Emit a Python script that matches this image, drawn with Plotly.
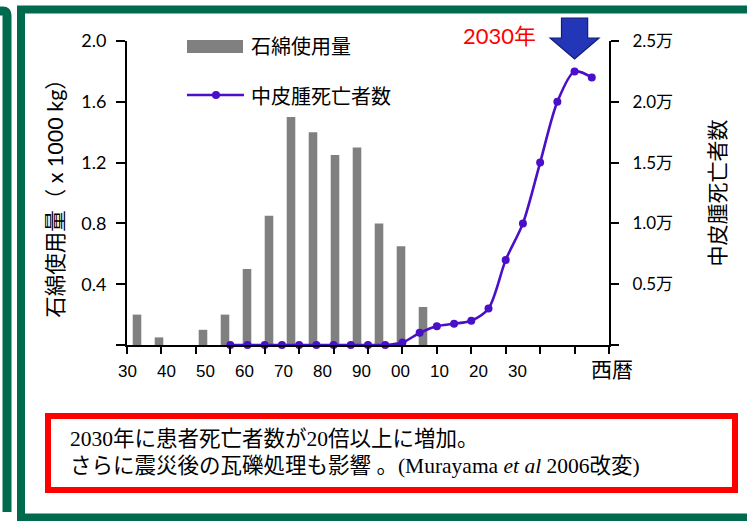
import plotly.graph_objects as go

# ---- data -------------------------------------------------------------
# Asbestos use (x 1000 kg), every 5 years
asbestos_years = [1930, 1935, 1940, 1945, 1950, 1955, 1960,
                  1965, 1970, 1975, 1980, 1985, 1990, 1995]
asbestos_use = [0.2, 0.05, 0.0, 0.1, 0.2, 0.5, 0.85,
                1.5, 1.4, 1.25, 1.3, 0.8, 0.65, 0.25]

# Mesothelioma deaths (persons), every 5 years
death_years = [1930, 1935, 1940, 1945, 1950, 1955, 1960, 1965, 1970, 1975, 1980,
               1985, 1990, 1995, 2000, 2005, 2010, 2015, 2020, 2025, 2030, 2035]
deaths = [0, 0, 0, 0, 0, 0, 0, 0, 0, 0, 200,
          1000, 1550, 1750, 2000, 3000, 7000, 10000, 15000, 20000, 22500, 22000]

# Axis labels
era_years = [1930, 1940, 1950, 1960, 1970, 1980, 1990, 2000, 2010, 2020, 2030]
era_text = ["30", "40", "50", "60", "70", "80", "90", "00", "10", "20", "30"]
use_ticks = [0, 0.4, 0.8, 1.2, 1.6, 2.0]
use_text = ["", "0.4", "0.8", "1.2", "1.6", "2.0"]
death_ticks = [0, 5000, 10000, 15000, 20000, 25000]
death_text = ["", "0.5万", "1.0万", "1.5万", "2.0万", "2.5万"]

peak_year = 2030
peak_label = "2030年"

# ---- geometry helpers ------------------------------------------------
W, H = 747, 521
L, R, T, B = 127, 138, 41, 176
PW, PH = W - L - R, H - T - B

T0, T1 = 1900, 2040            # time axis of the death curve
T_SCALE = PW / (T1 - T0)       # px per year on that axis
ERA_SCALE = 3.9                # px per year of the decade labels
ERA_OFFSET = 0.5               # px shift of the first decade label


def px(x):
    return (x - L) / PW


def py(y):
    return (H - B - y) / PH


# decade labels expressed on the time axis
era_pos = [T0 + (ERA_OFFSET + (e - era_years[0]) * ERA_SCALE) / T_SCALE
           for e in era_years]

GREEN = "#006a4e"
PURPLE = "#4a0fc8"
GRAY = "#808080"
CJK = "Noto Sans CJK JP"
NUM = "Lato, " + CJK
TXT = "Liberation Serif, " + CJK

fig = go.Figure()

fig.add_trace(go.Bar(
    x=asbestos_years, y=asbestos_use, name="石綿使用量",
    xaxis="x", yaxis="y", marker=dict(color=GRAY, line=dict(width=0)),
    width=1.95, showlegend=False,
))

fig.add_trace(go.Scatter(
    x=death_years, y=deaths, name="中皮腫死亡者数",
    xaxis="x2", yaxis="y2", mode="lines+markers",
    line=dict(color=PURPLE, width=2.6, shape="spline", smoothing=0.8),
    marker=dict(color=PURPLE, size=8), showlegend=False, cliponaxis=False,
))

axis_common = dict(showgrid=False, zeroline=False, color="black")

fig.update_layout(
    width=W, height=H,
    margin=dict(l=L, r=R, t=T, b=B, pad=0),
    paper_bgcolor="white", plot_bgcolor="white",
    showlegend=False,
    # bar positions (5-year bins)
    xaxis=dict(
        range=[1930 - 10 / 4.4, 1930 + (PW - 10) / 4.4],
        visible=False, anchor="y", **axis_common,
    ),
    # time axis: decade tick marks + decade labels
    xaxis2=dict(
        overlaying="x", side="bottom", anchor="y2",
        range=[T0, T1],
        tickmode="array", tickvals=era_pos, ticktext=era_text,
        ticks="", ticklabelstandoff=10,
        tickfont=dict(family="Liberation Sans", size=17, color="black"),
        minor=dict(tickmode="array", tickvals=list(range(T0, T1 + 1, 10)),
                   ticks="outside", ticklen=7, tickwidth=2, tickcolor="black",
                   showgrid=False),
        showline=True, linewidth=2, linecolor="black",
        **axis_common,
    ),
    yaxis=dict(
        range=[0, 2.0], tickvals=use_ticks, ticktext=use_text, anchor="x",
        ticks="outside", ticklen=9, tickwidth=2, tickcolor="black",
        showline=True, linewidth=2, linecolor="black", ticklabelstandoff=6,
        tickfont=dict(family=NUM, size=18, color="black"),
        title=dict(text="石綿使用量（ x 1000 kg）", standoff=12,
                   font=dict(family=NUM, size=21.5, color="black")),
        **axis_common,
    ),
    yaxis2=dict(
        overlaying="y", side="right", anchor="x2",
        range=[0, 25000], tickvals=death_ticks, ticktext=death_text,
        ticks="outside", ticklen=8, tickwidth=2, tickcolor="black",
        showline=True, linewidth=2, linecolor="black", ticklabelstandoff=10,
        tickfont=dict(family=NUM, size=17, color="black"),
        title=dict(text="中皮腫死亡者数", standoff=38,
                   font=dict(family=CJK, size=21, color="black")),
        **axis_common,
    ),
)

shapes = []
# outer panel frames
shapes.append(dict(type="rect", xref="paper", yref="paper",
                   x0=px(21), x1=px(790), y0=py(9.5), y1=py(517.5),
                   line=dict(color=GREEN, width=8), fillcolor="rgba(0,0,0,0)"))
shapes.append(dict(type="path", xref="paper", yref="paper",
                   path=f"M {px(-20)},{py(11)} L {px(3)},{py(11)} "
                        f"Q {px(7)},{py(11)} {px(7)},{py(15)} L {px(7)},{py(512)}",
                   line=dict(color=GREEN, width=9)))
# caption box
shapes.append(dict(type="rect", xref="paper", yref="paper",
                   x0=px(48), x1=px(735), y0=py(416), y1=py(490),
                   line=dict(color="#ff0000", width=6), fillcolor="white"))
# legend swatches
shapes.append(dict(type="rect", xref="paper", yref="paper",
                   x0=px(187), x1=px(243), y0=py(40), y1=py(53),
                   line=dict(width=0), fillcolor=GRAY))
shapes.append(dict(type="line", xref="paper", yref="paper",
                   x0=px(187), x1=px(244), y0=py(95), y1=py(95),
                   line=dict(color=PURPLE, width=2.6)))
shapes.append(dict(type="circle", xref="paper", yref="paper",
                   x0=px(212), x1=px(220), y0=py(91), y1=py(99),
                   line=dict(width=0), fillcolor=PURPLE))
# block arrow over the peak year
hw, sw = 7.1, 3.8
shapes.append(dict(type="path", xref="x2", yref="paper",
                   path=(f"M {peak_year - sw},{py(18)} L {peak_year + sw},{py(18)} "
                         f"L {peak_year + sw},{py(38)} L {peak_year + hw},{py(38)} "
                         f"L {peak_year},{py(59)} L {peak_year - hw},{py(38)} "
                         f"L {peak_year - sw},{py(38)} Z"),
                   line=dict(color="#121c78", width=1.2), fillcolor="#2436b8"))

annotations = [
    dict(text="石綿使用量", x=px(249), y=py(45), xref="paper", yref="paper",
         xanchor="left", yanchor="middle", showarrow=False,
         font=dict(family=CJK, size=20, color="black")),
    dict(text="中皮腫死亡者数", x=px(249), y=py(95), xref="paper", yref="paper",
         xanchor="left", yanchor="middle", showarrow=False,
         font=dict(family=CJK, size=20, color="black")),
    dict(text=peak_label, x=px(538), y=py(35), xref="paper", yref="paper",
         xanchor="right", yanchor="middle", showarrow=False,
         font=dict(family=NUM, size=22, color="#ff0000")),
    dict(text="西暦", x=px(612), y=py(368), xref="paper", yref="paper",
         xanchor="center", yanchor="middle", showarrow=False,
         font=dict(family=CJK, size=21, color="black")),
    dict(text="2030年に患者死亡者数が20倍以上に増加。",
         x=px(68), y=py(439), xref="paper", yref="paper",
         xanchor="left", yanchor="middle", showarrow=False,
         font=dict(family=TXT, size=21.5, color="black")),
    dict(text="さらに震災後の瓦礫処理も影響 。(Murayama <i>et al</i> 2006改変)",
         x=px(68), y=py(466), xref="paper", yref="paper",
         xanchor="left", yanchor="middle", showarrow=False,
         font=dict(family=TXT, size=21.5, color="black")),
]

fig.update_layout(shapes=shapes, annotations=annotations)
fig.write_html("out.html")
